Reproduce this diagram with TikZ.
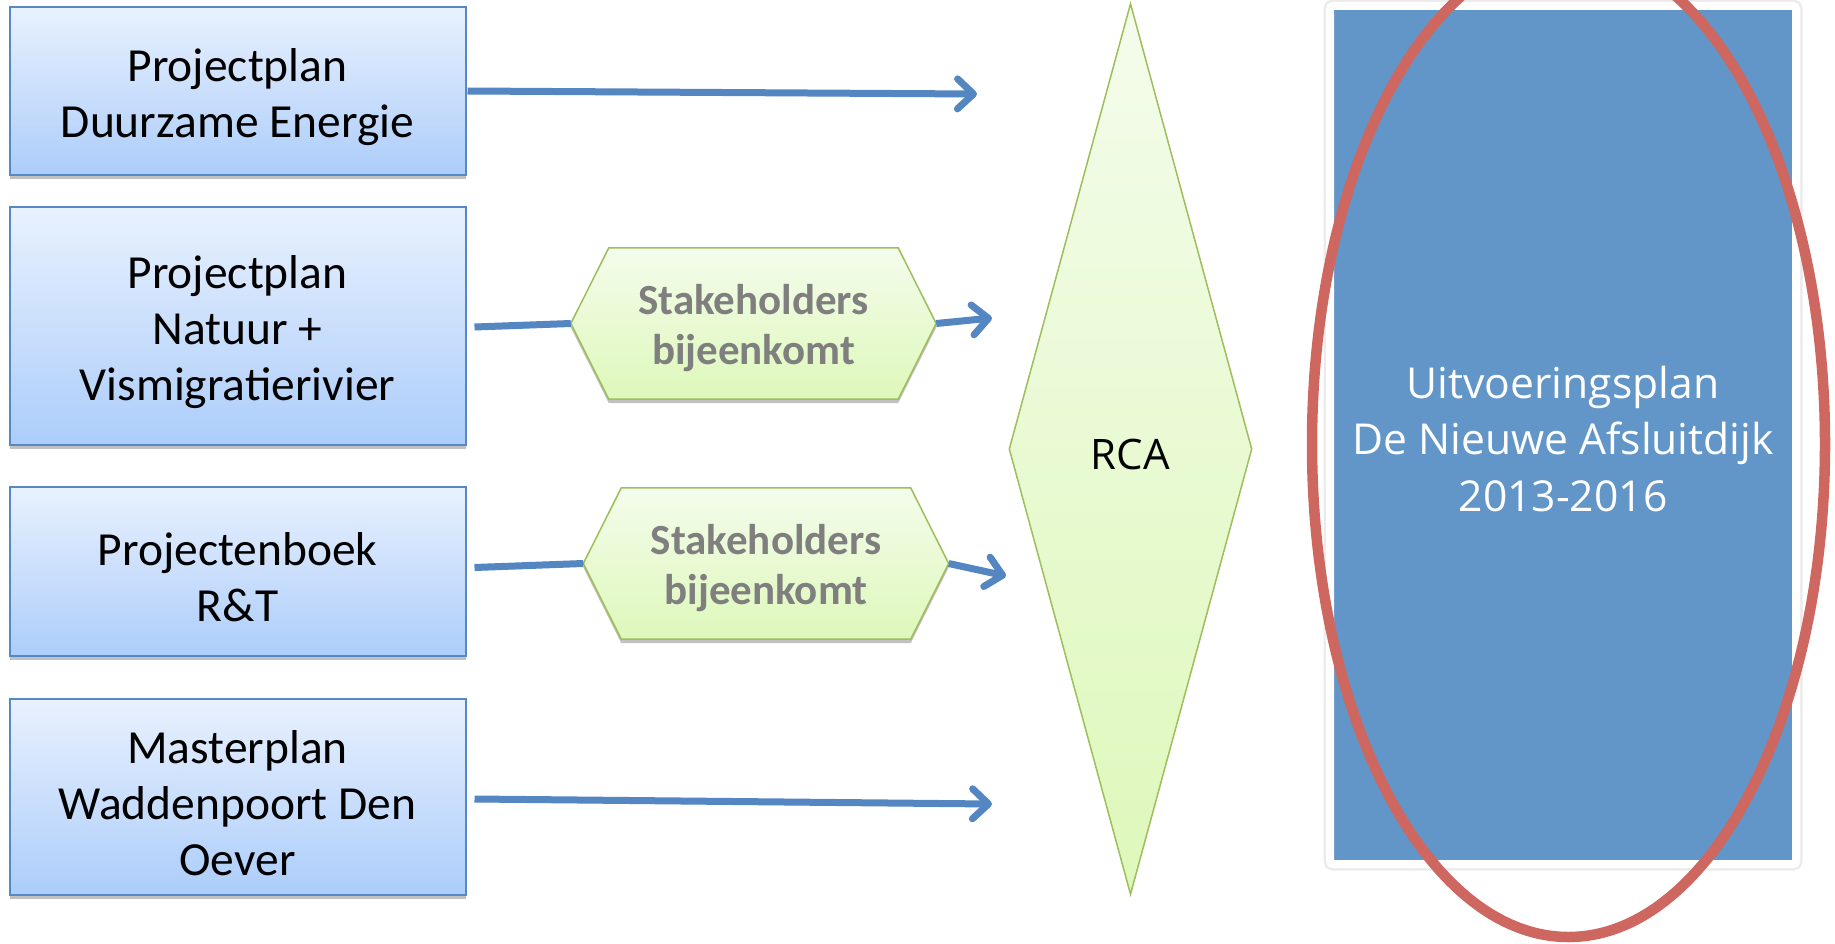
\documentclass[tikz,border=0pt]{standalone}
\usepackage{fontspec}
\setmainfont{Carlito}
\newfontfamily\planfont{Open Sans}
\usetikzlibrary{arrows.meta,shapes.geometric,shadows,backgrounds}
\definecolor{boxtop}{RGB}{233,241,254}
\definecolor{boxbot}{RGB}{172,205,250}
\definecolor{boxline}{RGB}{86,136,197}
\definecolor{hextop}{RGB}{244,252,236}
\definecolor{hexbot}{RGB}{222,248,186}
\definecolor{hexline}{RGB}{158,190,92}
\definecolor{arrowblue}{RGB}{84,134,194}
\definecolor{planblue}{RGB}{98,150,200}
\definecolor{ringred}{RGB}{205,103,96}
\definecolor{hextextcol}{RGB}{127,127,127}
\begin{document}
\begin{tikzpicture}[x=1pt,y=-1pt,
  softshadow/.style={drop shadow={shadow xshift=0pt,shadow yshift=-4pt,opacity=0.35,fill=black!70}},
  pbox/.style={draw=boxline,line width=2pt,top color=boxtop,bottom color=boxbot,
    minimum width=456pt,inner sep=0pt,softshadow},
  boxtext/.style={inner sep=0pt,align=center,font=\fontsize{47.5}{56}\selectfont},
  hexnode/.style={minimum width=365pt,minimum height=151pt,inner sep=0pt},
  hextext/.style={inner sep=0pt,align=center,text=hextextcol,
    font=\fontsize{43}{50}\selectfont\bfseries},
  hexshape/.style={draw=hexline,line width=1.5pt,top color=hextop,bottom color=hexbot,softshadow},
  arr/.style={draw=arrowblue,line width=7pt,
    -{Straight Barb[length=16pt,width=30pt,round]},
    preaction={draw=black,opacity=0.15,transform canvas={yshift=-3pt}}},
  link/.style={draw=arrowblue,line width=7pt,
    preaction={draw=black,opacity=0.15,transform canvas={yshift=-3pt}}},
]
\useasboundingbox (0,0) rectangle (1835,944);
\clip (0,0) rectangle (1835,944);

% left boxes
\node[pbox,minimum height=168pt] (b1) at (237.5,91) {};
\node[pbox,minimum height=238pt] (b2) at (237.5,326) {};
\node[pbox,minimum height=169pt] (b3) at (237.5,571.5) {};
\node[pbox,minimum height=196pt] (b4) at (237.5,797) {};
\node[boxtext] (t1) at ([yshift=-6pt]b1.center) {Projectplan\\Duurzame Energie};
\node[boxtext] (t2) at ([yshift=-6pt]b2.center) {Projectplan\\Natuur +\\Vismigratierivier};
\node[boxtext] (t3) at ([yshift=-6pt]b3.center) {Projectenboek\\R\&T};
\node[boxtext] (t4) at ([yshift=-6pt]b4.center) {Masterplan\\Waddenpoort Den\\Oever};

% hexagons
\node[hexnode] (h1) at (753.5,323.5) {};
\node[hexnode] (h2) at (766,563.5) {};
\begin{scope}[on background layer]
  \path[hexshape] (h1.west) -- ([xshift=38pt]h1.north west) -- ([xshift=-38pt]h1.north east)
    -- (h1.east) -- ([xshift=-38pt]h1.south east) -- ([xshift=38pt]h1.south west) -- cycle;
  \path[hexshape] (h2.west) -- ([xshift=38pt]h2.north west) -- ([xshift=-38pt]h2.north east)
    -- (h2.east) -- ([xshift=-38pt]h2.south east) -- ([xshift=38pt]h2.south west) -- cycle;
\end{scope}
\node[hextext] (s1) at ([yshift=-5pt]h1.center) {Stakeholders\\bijeenkomt};
\node[hextext] (s2) at ([yshift=-5pt]h2.center) {Stakeholders\\bijeenkomt};

% diamond
\node[diamond,draw=hexline,line width=1.5pt,top color=hextop,bottom color=hexbot,
  minimum width=243pt,minimum height=891pt,inner sep=0pt] (rca) at (1130.5,449) {};
\node[inner sep=0pt,font=\planfont\fontsize{42}{48}\selectfont] (rcat)
  at ([yshift=-5pt]rca.center) {RCA};

% plan rectangle
\node[draw=white,line width=8pt,fill=planblue,rounded corners=3pt,
  minimum width=466pt,minimum height=858pt,inner sep=0pt,
  preaction={draw=black,opacity=0.08,line width=13pt},
  drop shadow={shadow xshift=2pt,shadow yshift=-3pt,opacity=0.3,fill=black!70}]
  (plan) at (1563,435) {};
\node[inner sep=0pt,align=center,text=white,
  font=\planfont\fontsize{42.6}{56.8}\selectfont] (plant) at ([yshift=-4pt]plan.center)
  {Uitvoeringsplan\\De Nieuwe Afsluitdijk\\2013-2016};

% red ring
\node[ellipse,draw=ringred,line width=10.5pt,minimum width=513pt,minimum height=986pt,
  inner sep=0pt] (ring) at (1568.5,444) {};

% arrow ends
\coordinate (e1) at (977,94);
\coordinate (e2) at (992,318);
\coordinate (e3) at (1006,576);
\coordinate (e4) at (992,804);

\draw[arr] ([xshift=1pt]b1.east) -- (e1);
\draw[link] ([xshift=8pt,yshift=-1pt]b2.east) -- (h1.west);
\draw[arr] (h1.east) -- (e2);
\draw[link] ([xshift=8pt,yshift=4pt]b3.east) -- (h2.west);
\draw[arr] (h2.east) -- (e3);
\draw[arr] ([xshift=8pt,yshift=-2pt]b4.east) -- (e4);
\end{tikzpicture}
\end{document}
